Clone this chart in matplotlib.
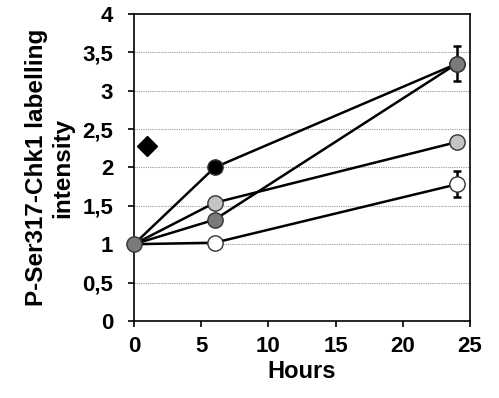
import numpy as np
import matplotlib.pyplot as plt

plt.rcParams['font.family'] = ['Liberation Sans', 'DejaVu Sans']
plt.rcParams['font.weight'] = 'bold'

hours = [0, 6, 24]
black_vals = [1.0, 2.0, 3.35]
light_vals = [1.0, 1.54, 2.33]
dark_vals = [1.0, 1.32, 3.35]
white_vals = [1.0, 1.02, 1.78]
dark_err = [0, 0.0, 0.23]
white_err = [0, 0.0, 0.17]
diamond_x = [1]
diamond_y = [2.28]

xticks = [0, 5, 10, 15, 20, 25]
yticks = [0, 0.5, 1, 1.5, 2, 2.5, 3, 3.5, 4]
ytick_labels = ['0', '0,5', '1', '1,5', '2', '2,5', '3', '3,5', '4']

fig = plt.figure(figsize=(4.99, 3.98), dpi=100)
ax = fig.add_axes([0.2685, 0.1935, 0.6735, 0.7715])

for y in [0.5, 1, 1.5, 2, 2.5, 3, 3.5]:
    ax.axhline(y, color='#999999', lw=0.8, ls=(0, (1, 1)), zorder=0)

series = [
    (black_vals, None, 'black'),
    (light_vals, None, '#c4c4c4'),
    (dark_vals, dark_err, '#7a7a7a'),
    (white_vals, white_err, 'white'),
]
for vals, err, fc in series:
    ax.plot(hours, vals, color='black', lw=1.8, zorder=2)
for vals, err, fc in series:
    if err is not None:
        ax.errorbar(hours[1:], vals[1:], yerr=err[1:], fmt='none', ecolor='black',
                    elinewidth=1.8, capsize=3, capthick=1.8, zorder=3)
    ax.plot(hours[1:], vals[1:], 'o', ms=11, mfc=fc, mec='#333333', mew=1, zorder=4)
ax.plot([hours[0]], [dark_vals[0]], 'o', ms=11, mfc='#7a7a7a', mec='#333333', mew=1,
        zorder=5, clip_on=False)
ax.plot(diamond_x, diamond_y, 'D', ms=10, color='black', zorder=4)

ax.set_xlim(0, 25)
ax.set_ylim(0, 4)
ax.set_xticks(xticks)
ax.set_yticks(yticks)
ax.set_yticklabels(ytick_labels)
ax.tick_params(direction='out', length=4, width=1.2, labelsize=16)
ax.tick_params(axis='x', pad=7)
ax.tick_params(axis='y', pad=11)
for s in ax.spines.values():
    s.set_linewidth(1.2)
ax.set_xlabel('Hours', fontsize=17, fontweight='bold', labelpad=2)
ax.set_ylabel('P-Ser317-Chk1 labelling\nintensity', fontsize=17.5, fontweight='bold',
              linespacing=1.15, labelpad=6)

fig.savefig('out.png', dpi=100)
